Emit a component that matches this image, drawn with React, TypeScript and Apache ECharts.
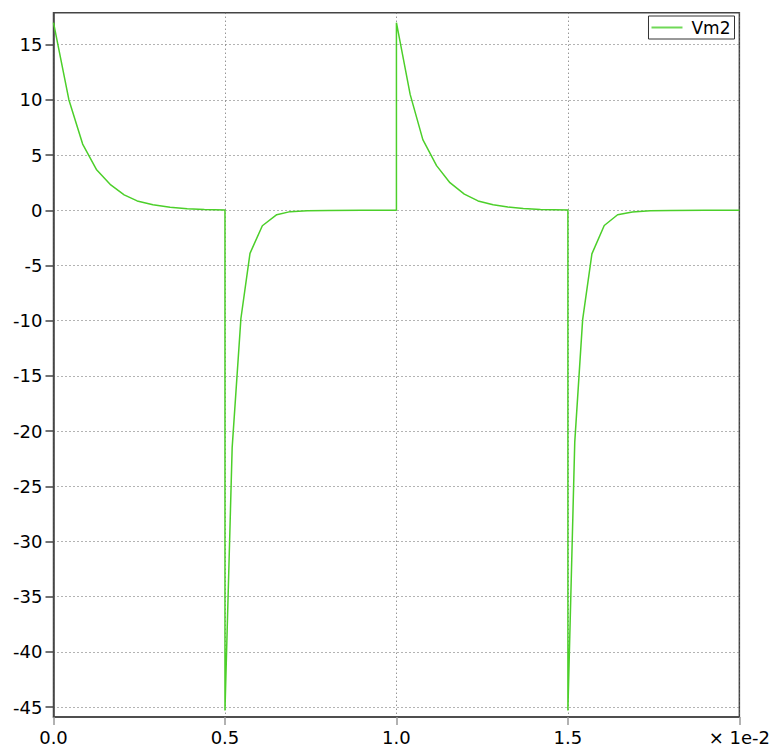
import React, { useEffect, useRef } from "react";
import * as echarts from "echarts";

const seriesName = "Vm2";
// time in units of 1e-2 s
const tValues = [
  0, 0.045, 0.085, 0.125, 0.167, 0.206, 0.244, 0.29, 0.34, 0.39, 0.44, 0.5,
  0.5, 0.521, 0.5465, 0.573, 0.609, 0.651, 0.69, 0.74, 0.8, 0.9, 1.0,
  1.0, 1.04, 1.077, 1.117, 1.156, 1.198, 1.238, 1.282, 1.325, 1.37, 1.42, 1.46, 1.5,
  1.5, 1.52, 1.543, 1.57, 1.606, 1.645, 1.688, 1.74, 1.8, 1.9, 2.0,
];
const vValues = [
  17.0, 10.0, 6.0, 3.7, 2.3, 1.4, 0.85, 0.5, 0.27, 0.14, 0.07, 0.03,
  -45.3, -21.5, -9.8, -3.9, -1.4, -0.4, -0.12, -0.04, -0.01, 0, 0,
  17.0, 10.5, 6.4, 4.05, 2.5, 1.47, 0.85, 0.5, 0.3, 0.16, 0.08, 0.05, 0.02,
  -45.3, -21, -9.9, -3.95, -1.38, -0.4, -0.15, -0.05, -0.01, 0, 0,
];
const yTicks = [-45, -40, -35, -30, -25, -20, -15, -10, -5, 0, 5, 10, 15];
const xTicks = [0, 0.5, 1.0, 1.5, 2.0];
const xUnitLabel = "× 1e-2";

export default function App() {
  const ref = useRef<HTMLDivElement>(null);
  useEffect(() => {
    if (!ref.current) return;
    const chart = echarts.init(ref.current, null, { renderer: "svg" });
    const font = "DejaVu Sans";
    const gridLine = { show: true, lineStyle: { color: "#666", type: [1, 3] as any, width: 1 } };
    chart.setOption({
      animation: false,
      backgroundColor: "#fff",
      textStyle: { fontFamily: font },
      grid: {
        left: 53.5,
        right: 33,
        top: 12.7,
        bottom: 34,
        show: true,
        borderColor: "#444",
        borderWidth: 1.5,
        backgroundColor: "transparent",
      },
      legend: {
        show: true,
        top: 16,
        right: 38.5,
        padding: [3, 4, 3, 3],
        borderColor: "#333",
        borderWidth: 1,
        borderRadius: 0,
        itemWidth: 31,
        itemHeight: 2,
        icon: "rect",
        itemStyle: { color: "#6fd857" },
        textStyle: { fontFamily: font, fontSize: 17, color: "#000", padding: [0, 0, 0, 4] },
        data: [seriesName],
      },
      xAxis: {
        type: "value",
        min: 0,
        max: 2,
        interval: 0.5,
        axisLine: { show: true, onZero: false, lineStyle: { color: "#444", width: 1.5 } },
        axisTick: { show: true, length: 8, lineStyle: { color: "#999", width: 1.5 }, customValues: xTicks },
        axisLabel: {
          fontFamily: font,
          fontSize: 18,
          color: "#000",
          margin: 11,
          customValues: xTicks,
          formatter: (v: number) => (Math.abs(v - 2) < 1e-9 ? xUnitLabel : v.toFixed(1)),
        },
        splitLine: gridLine,
      },
      yAxis: {
        type: "value",
        min: -45.9,
        max: 17.9,
        interval: 5,
        axisLine: { show: true, onZero: false, lineStyle: { color: "#444", width: 1.5 } },
        axisTick: { show: true, length: 8, lineStyle: { color: "#444", width: 1.5 }, customValues: yTicks },
        axisLabel: {
          fontFamily: font,
          fontSize: 18,
          color: "#000",
          margin: 11,
          customValues: yTicks,
          formatter: (v: number) => String(Math.round(v)),
        },
        splitLine: gridLine,
      },
      series: [
        {
          name: seriesName,
          type: "line",
          data: tValues.map((t, i) => [t, vValues[i]]),
          symbol: "none",
          showSymbol: false,
          lineStyle: { color: "#4ccf2a", width: 1.5 },
          itemStyle: { color: "#4ccf2a" },
        },
      ],
    });
    return () => chart.dispose();
  }, []);
  return <div ref={ref} style={{ width: 773, height: 751, position: "absolute", left: 0, top: 0 }} />;
}
